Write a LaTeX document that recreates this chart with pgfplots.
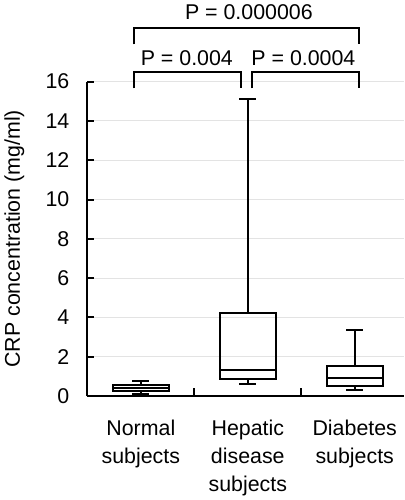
\documentclass[border=0pt]{standalone}
\usepackage{pgfplots}
\pgfplotsset{compat=1.18}
\usepgfplotslibrary{statistics}
\usepackage{fontspec}
\setmainfont{Liberation Sans}
\begin{document}
\begin{tikzpicture}[font=\fontsize{16}{21}\selectfont]
\begin{axis}[
  scale only axis,
  width=237pt, height=235.5pt,
  xmin=0.5, xmax=3.46, ymin=0, ymax=16,
  clip=false,
  axis x line=bottom, axis y line=left,
  axis line style={line width=1.5pt, -},
  ytick={0,2,...,16},
  ymajorgrids, grid style={gray!22, line width=0.8pt},
  tick align=inside, major tick length=5pt, minor tick length=6pt,
  tick style={black, line width=1.5pt},
  xtick={1,2,3},
  xticklabels={{Normal\\subjects},{Hepatic\\disease\\subjects},{Diabetes\\subjects}},
  every major x tick/.style={draw=none},
  minor xtick={1.5,2.5},
  xticklabel style={align=center, yshift=-14pt},
  /pgf/number format/assume math mode=true,
  yticklabel style={xshift=-10pt},
  ylabel={CRP concentration (mg/ml)},
  ylabel style={yshift=9pt},
  boxplot/draw direction=y,
  boxplot/box extend=0.52,
  boxplot/whisker extend=0.16,
]
\addplot[black, line width=1.5pt, boxplot prepared={lower whisker=0.12, lower quartile=0.24, median=0.39, upper quartile=0.55, upper whisker=0.78, draw position=1}] coordinates {};
\addplot[black, line width=1.5pt, boxplot prepared={lower whisker=0.6, lower quartile=0.85, median=1.33, upper quartile=4.22, upper whisker=15.1, draw position=2}] coordinates {};
\addplot[black, line width=1.5pt, boxplot prepared={lower whisker=0.3, lower quartile=0.49, median=0.9, upper quartile=1.53, upper whisker=3.35, draw position=3}] coordinates {};
\draw[line width=1.5pt] (axis cs:0.935,17.9) |- (axis cs:3.04,18.72) -- (axis cs:3.04,17.9);
\draw[line width=1.5pt] (axis cs:0.935,15.66) |- (axis cs:1.935,16.48) -- (axis cs:1.935,15.66);
\draw[line width=1.5pt] (axis cs:2.04,15.66) |- (axis cs:3.04,16.48) -- (axis cs:3.04,15.66);
\node at (axis cs:2.01,19.54) {P = 0.000006};
\node at (axis cs:1.43,17.2) {P = 0.004};
\node at (axis cs:2.52,17.2) {P = 0.0004};
\end{axis}
\end{tikzpicture}
\end{document}
